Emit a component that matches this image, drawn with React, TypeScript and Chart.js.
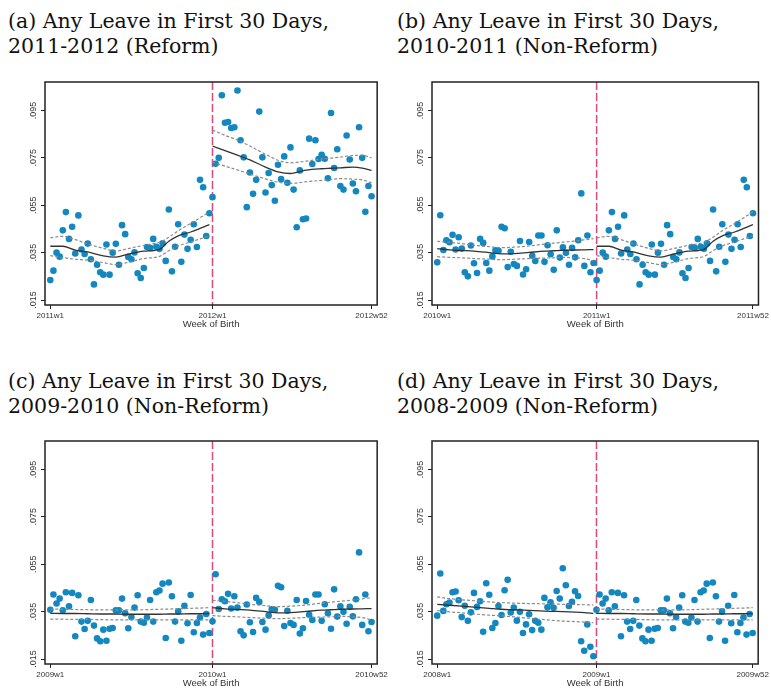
import React, { useEffect, useRef } from "react";
import { Chart, registerables } from "chart.js";
Chart.register(...registerables);

const yTicks = [0.015, 0.035, 0.055, 0.075, 0.095];
const yTickLabels = [".015", ".035", ".055", ".075", ".095"];
const xTickWeeks = [0, 52, 103];
const cutoffWeek = 52;
const fitKnots = [0, 4, 8, 12, 17, 21, 25, 30, 35, 38, 41, 45, 48, 51];

const rate2008 = [
  0.0333, 0.0511, 0.0353, 0.0381, 0.0388, 0.0432, 0.0435, 0.0398, 0.0327, 0.0375,
  0.0311, 0.0347, 0.0429, 0.037, 0.0394, 0.0265, 0.047, 0.0421, 0.0281, 0.0302,
  0.0374, 0.0336, 0.044, 0.0484, 0.0346, 0.0367, 0.0312, 0.0349, 0.026, 0.0296,
  0.0339, 0.0272, 0.0311, 0.0303, 0.0274, 0.0408, 0.0368, 0.0389, 0.0366, 0.0437,
  0.0405, 0.0533, 0.0461, 0.0374, 0.0391, 0.0436, 0.0416, 0.0225, 0.0185, 0.0296,
  0.0202, 0.0162,
];
const rate2009 = [
  0.0358, 0.0422, 0.0384, 0.0405, 0.0356, 0.0432, 0.0373, 0.0429, 0.0246, 0.0419,
  0.0308, 0.0277, 0.0311, 0.0399, 0.0291, 0.0237, 0.0225, 0.0274, 0.0227, 0.0278,
  0.0281, 0.0356, 0.0356, 0.0405, 0.0343, 0.028, 0.0327, 0.0367, 0.0419, 0.0308,
  0.0303, 0.0325, 0.0399, 0.0308, 0.0432, 0.0439, 0.0468, 0.0239, 0.0473, 0.0415,
  0.0308, 0.0351, 0.0227, 0.0375, 0.0301, 0.042, 0.0263, 0.0302, 0.0325, 0.0253,
  0.034, 0.026,
];
const rate2010 = [
  0.0309, 0.0508, 0.0361, 0.0402, 0.0394, 0.0425, 0.0363, 0.0415, 0.0367, 0.0267,
  0.025, 0.038, 0.0305, 0.0264, 0.0408, 0.0391, 0.0306, 0.0274, 0.0334, 0.036,
  0.0358, 0.0459, 0.0453, 0.0289, 0.0354, 0.0302, 0.0294, 0.0399, 0.0258, 0.028,
  0.0395, 0.0337, 0.0315, 0.0422, 0.0422, 0.0311, 0.0381, 0.0343, 0.0278, 0.0444,
  0.0329, 0.0373, 0.0349, 0.0299, 0.037, 0.033, 0.0402, 0.06, 0.0294, 0.0422,
  0.0267, 0.0306,
];
const rate2011 = [
  0.0234, 0.0274, 0.035, 0.0333, 0.0444, 0.0521, 0.0408, 0.0459, 0.0346, 0.0507,
  0.0363, 0.0344, 0.0388, 0.0322, 0.0216, 0.0299, 0.0267, 0.0257, 0.0384, 0.0257,
  0.035, 0.0387, 0.0299, 0.0466, 0.0428, 0.0332, 0.0322, 0.0351, 0.0263, 0.0243,
  0.0285, 0.0374, 0.037, 0.0408, 0.0375, 0.0366, 0.0389, 0.0315, 0.0532, 0.0271,
  0.0375, 0.047, 0.0311, 0.0426, 0.0366, 0.0404, 0.047, 0.0374, 0.0657, 0.0626,
  0.042, 0.0516,
];
const rate2012 = [
  0.0584, 0.0725, 0.075, 0.1014, 0.0898, 0.0901, 0.0876, 0.0879, 0.1034, 0.0824,
  0.0752, 0.0542, 0.0688, 0.0598, 0.0657, 0.0945, 0.0752, 0.0604, 0.0686, 0.0635,
  0.0569, 0.0721, 0.066, 0.0756, 0.0645, 0.0794, 0.0616, 0.0457, 0.0697, 0.0491,
  0.0494, 0.0831, 0.0724, 0.0824, 0.0745, 0.0763, 0.0746, 0.0664, 0.0939, 0.0707,
  0.0786, 0.0631, 0.0616, 0.0844, 0.0743, 0.0642, 0.0609, 0.0879, 0.075, 0.0522,
  0.0631, 0.0588,
];

const fit2008 = [0.0381, 0.0377, 0.0373, 0.0369, 0.0364, 0.036, 0.0358, 0.0355, 0.0352, 0.0351, 0.035, 0.0348, 0.0346, 0.0343];
const upper2008 = [0.0412, 0.0405, 0.04, 0.0396, 0.0391, 0.0388, 0.0386, 0.0384, 0.0383, 0.0382, 0.0381, 0.038, 0.0379, 0.0378];
const lower2008 = [0.0354, 0.0349, 0.0345, 0.034, 0.0335, 0.0332, 0.0328, 0.0322, 0.0316, 0.0313, 0.031, 0.0308, 0.0306, 0.0303];

const fit2009 = [0.0343, 0.0342, 0.0342, 0.0341, 0.034, 0.034, 0.0339, 0.0339, 0.0339, 0.034, 0.034, 0.0341, 0.0341, 0.0342];
const upper2009 = [0.0361, 0.036, 0.0359, 0.0358, 0.0357, 0.0357, 0.0357, 0.0358, 0.036, 0.0361, 0.0362, 0.0364, 0.0365, 0.0367];
const lower2009 = [0.0318, 0.0318, 0.0317, 0.0317, 0.0316, 0.0315, 0.0315, 0.0315, 0.0315, 0.0315, 0.0315, 0.0315, 0.0315, 0.0315];

const fit2010 = [0.0367, 0.0362, 0.0359, 0.0356, 0.035, 0.0345, 0.0346, 0.0351, 0.0356, 0.0358, 0.036, 0.0361, 0.0362, 0.0363];
const upper2010 = [0.0398, 0.0393, 0.0388, 0.0381, 0.0375, 0.0371, 0.0373, 0.0378, 0.0386, 0.039, 0.0394, 0.0399, 0.0404, 0.0409];
const lower2010 = [0.0333, 0.033, 0.0328, 0.0325, 0.0322, 0.032, 0.0322, 0.0325, 0.0327, 0.0328, 0.033, 0.0328, 0.0325, 0.0315];

const fit2011 = [0.0377, 0.0377, 0.0361, 0.0353, 0.0336, 0.0331, 0.0344, 0.0356, 0.0364, 0.0398, 0.0421, 0.0437, 0.0452, 0.0468];
const upper2011 = [0.0413, 0.0419, 0.0405, 0.0387, 0.0368, 0.0357, 0.0367, 0.0381, 0.0394, 0.0415, 0.0442, 0.0473, 0.0497, 0.0522];
const lower2011 = [0.0337, 0.0329, 0.0322, 0.0318, 0.0308, 0.0299, 0.0309, 0.0325, 0.0334, 0.0358, 0.0378, 0.0395, 0.0408, 0.0421];

const fit2012 = [0.08, 0.078, 0.0761, 0.0741, 0.0711, 0.0691, 0.0684, 0.0698, 0.0704, 0.0706, 0.0708, 0.0711, 0.0707, 0.0697];
const upper2012 = [0.0867, 0.0845, 0.0825, 0.08, 0.0765, 0.074, 0.0729, 0.0736, 0.0745, 0.0749, 0.0753, 0.076, 0.0761, 0.075];
const lower2012 = [0.0732, 0.0715, 0.0699, 0.0682, 0.0661, 0.0647, 0.0642, 0.0649, 0.0655, 0.0659, 0.0662, 0.066, 0.0657, 0.0645];

const labelsA = ["2011w1", "2012w1", "2012w52"];
const labelsB = ["2010w1", "2011w1", "2011w52"];
const labelsC = ["2009w1", "2010w1", "2010w52"];
const labelsD = ["2008w1", "2009w1", "2009w52"];

const panels = [
  { title: "(a) Any Leave in First 30 Days,\n2011-2012 (Reform)", labels: labelsA,
    pre: rate2011, post: rate2012, preFit: [fit2011, upper2011, lower2011], postFit: [fit2012, upper2012, lower2012],
    left: 0, top: 70, width: 390, yw: 45, pr: 12, tx: 8, ty: 9 },
  { title: "(b) Any Leave in First 30 Days,\n2010-2011 (Non-Reform)", labels: labelsB,
    pre: rate2010, post: rate2011, preFit: [fit2010, upper2010, lower2010], postFit: [fit2011, upper2011, lower2011],
    left: 390, top: 70, width: 381, yw: 42, pr: 6, tx: 397, ty: 9 },
  { title: "(c) Any Leave in First 30 Days,\n2009-2010 (Non-Reform)", labels: labelsC,
    pre: rate2009, post: rate2010, preFit: [fit2009, upper2009, lower2009], postFit: [fit2010, upper2010, lower2010],
    left: 0, top: 429, width: 390, yw: 45, pr: 12, tx: 8, ty: 369 },
  { title: "(d) Any Leave in First 30 Days,\n2008-2009 (Non-Reform)", labels: labelsD,
    pre: rate2008, post: rate2009, preFit: [fit2008, upper2008, lower2008], postFit: [fit2009, upper2009, lower2009],
    left: 390, top: 429, width: 381, yw: 42, pr: 6, tx: 397, ty: 369 },
];

const SANS = "'Liberation Sans', Arial, Helvetica, sans-serif";

function Panel({ p }: { p: any }) {
  const ref = useRef<HTMLCanvasElement>(null);
  useEffect(() => {
    const canvas = ref.current!;
    const scatterPts = [
      ...p.pre.map((v: number, i: number) => ({ x: i, y: v })),
      ...p.post.map((v: number, i: number) => ({ x: cutoffWeek + i, y: v })),
    ];
    const curve = (vals: number[], off: number) => fitKnots.map((k, i) => ({ x: k + off, y: vals[i] }));
    const lineDs = (vals: number[], off: number, dashed: boolean) => ({
      type: "line",
      data: curve(vals, off),
      borderColor: dashed ? "#8a8a8a" : "#333333",
      borderWidth: dashed ? 1.2 : 1.3,
      borderDash: dashed ? [3, 2] : [],
      pointRadius: 0,
      fill: false,
      cubicInterpolationMode: "monotone",
      order: 0,
    });
    const plugin = {
      id: "stataDecor",
      beforeDatasetsDraw(chart: any) {
        const { ctx, chartArea, scales } = chart;
        const x = scales.x.getPixelForValue(cutoffWeek);
        ctx.save();
        ctx.strokeStyle = "#e0487a";
        ctx.lineWidth = 1.5;
        ctx.setLineDash([8, 3]);
        ctx.beginPath();
        ctx.moveTo(x, chartArea.top);
        ctx.lineTo(x, chartArea.bottom);
        ctx.stroke();
        ctx.restore();
      },
      afterDraw(chart: any) {
        const { ctx, chartArea, scales } = chart;
        ctx.save();
        ctx.strokeStyle = "#222";
        ctx.lineWidth = 1.5;
        ctx.strokeRect(chartArea.left, chartArea.top, chartArea.right - chartArea.left, chartArea.bottom - chartArea.top);
        ctx.fillStyle = "#333";
        ctx.font = "9px " + SANS;
        ctx.textAlign = "center";
        ctx.textBaseline = "middle";
        yTicks.forEach((v, i) => {
          const py = scales.y.getPixelForValue(v);
          ctx.save();
          ctx.translate(chartArea.left - 11.5, py);
          ctx.rotate(-Math.PI / 2);
          ctx.fillText(yTickLabels[i], 0, 0);
          ctx.restore();
        });
        ctx.restore();
      },
    };
    const chart = new Chart(canvas, {
      type: "scatter",
      data: {
        datasets: [
          lineDs(p.preFit[0], 0, false),
          lineDs(p.preFit[1], 0, true),
          lineDs(p.preFit[2], 0, true),
          lineDs(p.postFit[0], cutoffWeek, false),
          lineDs(p.postFit[1], cutoffWeek, true),
          lineDs(p.postFit[2], cutoffWeek, true),
          {
            type: "scatter",
            data: scatterPts,
            backgroundColor: "#1287c0",
            borderWidth: 0,
            pointRadius: 3.3,
            order: 1,
          },
        ] as any,
      },
      options: {
        responsive: false,
        animation: false,
        events: [],
        layout: { padding: { top: 12, right: p.pr, bottom: 0, left: 0 } },
        plugins: { legend: { display: false }, tooltip: { enabled: false } },
        scales: {
          x: {
            type: "linear",
            min: -1.7,
            max: 104.8,
            border: { display: false },
            grid: { drawOnChartArea: false, drawTicks: true, tickLength: 4, color: "#222", lineWidth: 1 },
            ticks: {
              autoSkip: false,
              maxRotation: 0,
              minRotation: 0,
              padding: 2,
              color: "#333",
              font: { family: SANS, size: 8 },
              callback: (v: any) => {
                const idx = xTickWeeks.indexOf(Number(v));
                return idx >= 0 ? p.labels[idx] : "";
              },
            },
            afterBuildTicks: (s: any) => {
              s.ticks = xTickWeeks.map((v) => ({ value: v }));
            },
            afterFit: (s: any) => {
              s.height = 25;
            },
            title: {
              display: true,
              text: "Week of Birth",
              color: "#333",
              font: { family: SANS, size: 9.5 },
              padding: { top: 0, bottom: 0 },
            },
          },
          y: {
            type: "linear",
            min: 0.0129,
            max: 0.107,
            border: { display: false },
            grid: { drawOnChartArea: false, drawTicks: true, tickLength: 4, color: "#222", lineWidth: 1 },
            ticks: { display: false },
            afterBuildTicks: (s: any) => {
              s.ticks = yTicks.map((v) => ({ value: v }));
            },
            afterFit: (s: any) => {
              s.width = p.yw;
            },
          },
        },
      } as any,
      plugins: [plugin],
    });
    return () => chart.destroy();
  }, []);
  return (
    <>
      <div
        style={{
          position: "absolute",
          left: p.tx,
          top: p.ty,
          fontFamily: "'DejaVu Serif', serif",
          fontSize: 20.5,
          lineHeight: "25px",
          whiteSpace: "pre",
          color: "#111",
        }}
      >
        {p.title}
      </div>
      <canvas
        ref={ref}
        width={p.width}
        height={260}
        style={{ position: "absolute", left: p.left, top: p.top, width: p.width, height: 260 }}
      />
    </>
  );
}

export default function App() {
  return (
    <div
      style={{
        position: "absolute",
        left: 0,
        top: 0,
        width: 771,
        height: 688,
        overflow: "hidden",
        background: "#fff",
      }}
    >
      {panels.map((p, i) => (
        <Panel key={i} p={p} />
      ))}
    </div>
  );
}
